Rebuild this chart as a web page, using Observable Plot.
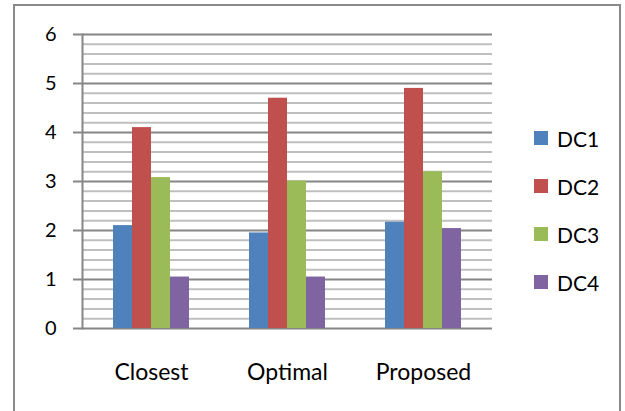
<!DOCTYPE html>
<html>
<head>
<meta charset="utf-8">
<script src="https://cdn.jsdelivr.net/npm/d3@7"></script>
<script src="https://cdn.jsdelivr.net/npm/@observablehq/plot@0.6"></script>
<style>
  html, body { margin: 0; padding: 0; background: #fff; }
  #wrap { position: relative; width: 625px; height: 411px; overflow: hidden; font-family: Lato, sans-serif; }
  #border { position: absolute; left: 13px; top: 4px; width: 608px; height: 420px; border: 2px solid #8a8a8a; box-sizing: border-box; }
  .layer { position: absolute; left: 0; top: 0; }
  #legend { position: absolute; left: 534px; top: 114px; }
  .item { height: 48px; display: flex; align-items: center; font-size: 21px; color: #000; }
  .sw { width: 14px; height: 14px; margin-right: 9px; }
</style>
</head>
<body>
<div id="wrap">
  <div id="border"></div>
  <div id="grid" class="layer"></div>
  <div id="chart" class="layer"></div>
  <div id="legend"></div>
</div>
<script>
const categories = ["Closest", "Optimal", "Proposed"];
const series = ["DC1", "DC2", "DC3", "DC4"];
const colors = ["#4F81BD", "#C0504D", "#9BBB59", "#8064A2"];
const dc1 = [2.1, 1.95, 2.17];
const dc2 = [4.1, 4.7, 4.9];
const dc3 = [3.08, 3.01, 3.2];
const dc4 = [1.05, 1.05, 2.04];
const yTicks = [0, 1, 2, 3, 4, 5, 6];
const minorTicks = d3.range(1, 30).map(i => i / 5).filter(v => Math.abs(v - Math.round(v)) > 1e-9);

const valuesBySeries = [dc1, dc2, dc3, dc4];
const data = [];
categories.forEach((c, ci) => {
  series.forEach((s, si) => data.push({category: c, series: s, value: valuesBySeries[si][ci]}));
});

const common = {
  width: 625,
  height: 411,
  marginLeft: 82,
  marginRight: 133,
  marginTop: 34,
  marginBottom: 83,
  style: {fontFamily: "Lato, sans-serif", color: "#000", background: "transparent"}
};

const grid = Plot.plot({
  ...common,
  y: {domain: [0, 6], axis: null},
  marks: [
    Plot.ruleY(minorTicks, {stroke: "#bfbfbf", strokeWidth: 2}),
    Plot.ruleY(yTicks, {stroke: "#868686", strokeWidth: 2}),
    Plot.axisY({ticks: yTicks, tickSize: 9, tickPadding: 17, stroke: "#868686", strokeWidth: 2, fill: "#000", fontSize: 20, label: null, tickFormat: d3.format("d")}),
    Plot.frame({anchor: "left", stroke: "#868686", strokeWidth: 2})
  ]
});
document.getElementById("grid").appendChild(grid);

const plot = Plot.plot({
  ...common,
  fx: {domain: categories, paddingInner: 0.43, paddingOuter: 0.215, label: null},
  x: {domain: series, padding: 0, axis: null},
  y: {domain: [0, 6], axis: null},
  color: {domain: series, range: colors},
  marks: [
    Plot.barY(data, {fx: "category", x: "series", y: "value", fill: "series"}),
    Plot.axisFx({anchor: "bottom", tickSize: 0, tickPadding: 35, fontSize: 23, fill: "#000", label: null})
  ]
});
document.getElementById("chart").appendChild(plot);

const legend = document.getElementById("legend");
series.forEach((s, i) => {
  const row = document.createElement("div");
  row.className = "item";
  const sw = document.createElement("div");
  sw.className = "sw";
  sw.style.background = colors[i];
  row.appendChild(sw);
  row.appendChild(document.createTextNode(s));
  legend.appendChild(row);
});
</script>
</body>
</html>
